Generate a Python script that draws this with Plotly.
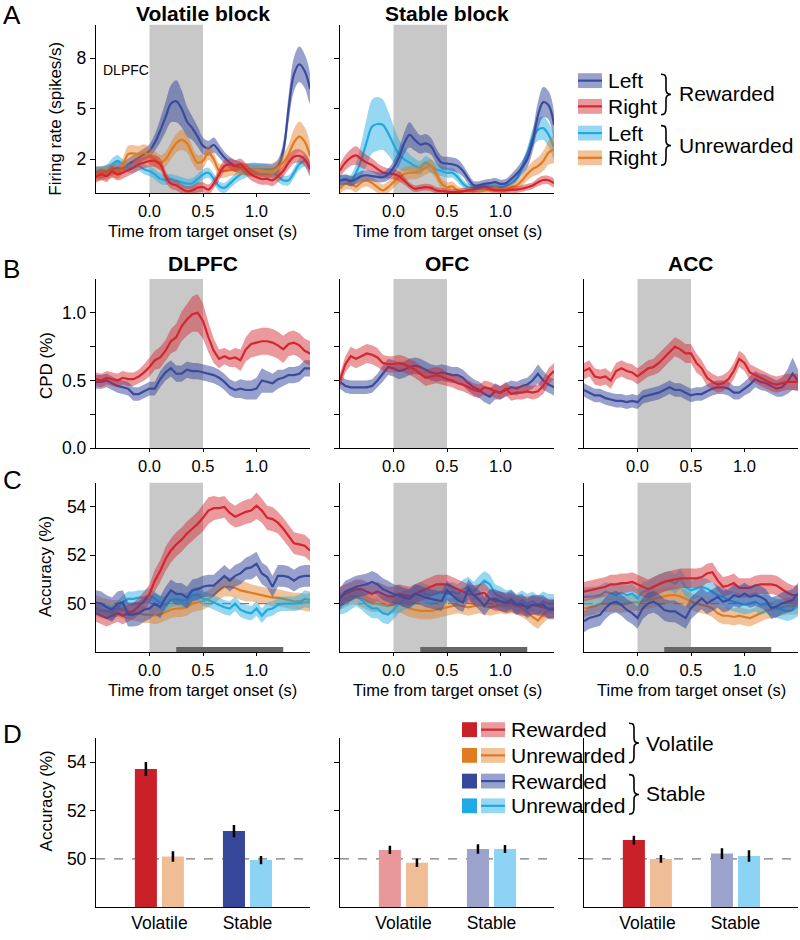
import plotly.graph_objects as go

# ---------------- DATA ----------------
t = [round(-0.5 + 0.05 * i, 2) for i in range(41)]

# Panel A: firing rate (spikes/s), DLPFC example neuron
A_vol_left_rew = [1.2,1.2,1.3,1.4,1.5,1.5,1.7,1.9,2.1,2.3, 2.5,3.0,3.7,4.5,5.3,5.45,5.0,4.25,3.85,3.35,2.8,2.65,2.85,2.5,2.1, 1.8,1.6,1.5,1.4,1.4,1.4,1.4,1.4,1.4, 1.6,2.5,5.0,7.05,7.65,7.25,6.2]
A_vol_left_rew_sem = [0.35,0.35,0.35,0.35,0.35,0.35,0.35,0.35,0.35,0.35, 0.4,0.5,0.7,0.9,1.1,1.25,1.1,0.9,0.7,0.6,0.5,0.45,0.45,0.4,0.35, 0.35,0.35,0.35,0.35,0.35,0.35,0.35,0.35,0.35, 0.4,0.5,0.8,1.0,1.05,1.0,0.9]
A_vol_right_rew = [0.95,1.1,1.0,1.28,1.1,1.2,1.35,1.5,1.7,1.8, 1.9,1.9,1.7,1.0,0.55,0.45,0.25,0.1,0.15,0.32,0.34,0.2,0.55,1.1,1.6, 1.7,1.6,1.7,1.4,1.1,0.93,0.83,0.83,0.75, 1.0,1.3,1.8,2.15,2.2,2.0,1.4]
A_vol_right_rew_sem = [0.35,0.35,0.35,0.35,0.35,0.35,0.35,0.35,0.35,0.35, 0.35,0.35,0.35,0.35,0.3,0.3,0.3,0.3,0.3,0.3,0.3,0.3,0.3,0.35,0.35, 0.35,0.35,0.35,0.35,0.35,0.35,0.35,0.35,0.35, 0.35,0.35,0.4,0.4,0.4,0.4,0.4]
A_vol_left_unrew = [1.3,1.3,1.4,1.7,1.9,1.7,1.5,1.5,1.6,1.4, 1.3,1.1,0.85,0.77,0.83,0.73,0.64,0.55,0.58,0.83,1.1,1.2,0.85,0.4,0.3, 0.55,0.85,1.1,1.3,1.4,1.4,1.35,1.3,1.2, 1.0,0.75,0.75,1.2,1.7,1.9,1.5]
A_vol_left_unrew_sem = [0.3,0.3,0.3,0.35,0.35,0.3,0.3,0.3,0.3,0.3, 0.3,0.3,0.3,0.3,0.3,0.3,0.3,0.3,0.3,0.3,0.3,0.3,0.3,0.3,0.3, 0.3,0.3,0.35,0.4,0.4,0.4,0.4,0.4,0.35, 0.35,0.3,0.3,0.3,0.35,0.35,0.35]
A_vol_right_unrew = [1.1,1.15,1.2,1.3,1.25,1.6,2.3,2.35,2.3,2.4, 2.2,2.0,1.8,2.0,2.5,2.95,3.15,2.95,2.3,1.8,1.9,2.4,2.0,1.35,1.3, 1.35,1.4,1.4,1.4,1.3,1.3,1.3,1.25,1.3, 1.5,1.8,2.3,3.0,3.35,3.05,2.2]
A_vol_right_unrew_sem = [0.4,0.4,0.4,0.4,0.4,0.45,0.5,0.5,0.5,0.5, 0.5,0.5,0.45,0.45,0.5,0.55,0.6,0.55,0.5,0.45,0.45,0.45,0.4,0.4,0.4, 0.35,0.35,0.35,0.35,0.35,0.35,0.35,0.35,0.35, 0.4,0.5,0.6,0.8,0.9,0.85,0.7]

A_stab_left_rew = [0.73,0.8,0.7,0.83,1.0,1.05,1.0,0.95,0.93,1.1, 1.5,2.1,2.95,3.45,3.15,2.88,2.95,2.78,2.2,1.8,1.75,1.7,1.6,1.3,0.83, 0.45,0.45,0.54,0.58,0.64,0.54,0.58,0.83,1.12, 1.5,2.0,3.05,4.6,5.4,5.2,4.05]
A_stab_left_rew_sem = [0.3,0.3,0.3,0.3,0.3,0.3,0.3,0.3,0.3,0.35, 0.4,0.5,0.65,0.75,0.65,0.55,0.55,0.5,0.45,0.4,0.4,0.4,0.4,0.35,0.3, 0.25,0.25,0.25,0.25,0.25,0.25,0.25,0.3,0.35, 0.4,0.5,0.6,0.8,0.9,0.85,0.75]
A_stab_right_rew = [1.32,1.8,2.1,2.23,2.0,1.8,1.65,1.42,1.22,1.16, 1.12,1.0,0.73,0.44,0.25,0.3,0.34,0.3,0.15,0.1,0.08,0.05,0.05,0.1,0.15, 0.2,0.34,0.38,0.25,0.15,0.15,0.15,0.2,0.2, 0.25,0.34,0.44,0.64,0.77,0.75,0.58]
A_stab_right_rew_sem = [0.4,0.45,0.5,0.55,0.5,0.45,0.4,0.35,0.35,0.3, 0.3,0.3,0.25,0.2,0.2,0.2,0.2,0.2,0.2,0.2,0.2,0.2,0.2,0.2,0.2, 0.2,0.2,0.2,0.2,0.2,0.2,0.2,0.2,0.2, 0.2,0.2,0.2,0.25,0.25,0.25,0.25]
A_stab_left_unrew = [0.73,0.8,0.73,1.2,2.0,3.05,3.95,4.1,4.05,3.55, 2.9,2.3,2.0,1.8,1.6,1.5,1.8,1.6,1.4,1.3,1.2,1.2,0.93,0.54,0.34, 0.3,0.25,0.25,0.34,0.38,0.34,0.44,0.54,0.83, 1.5,2.3,3.25,3.75,3.85,3.45,2.7]
A_stab_left_unrew_sem = [0.3,0.3,0.35,0.6,1.0,1.4,1.6,1.6,1.5,1.3, 1.1,0.9,0.7,0.5,0.45,0.4,0.4,0.4,0.35,0.3,0.3,0.3,0.3,0.25,0.2, 0.2,0.2,0.2,0.2,0.2,0.2,0.2,0.2,0.2, 0.3,0.4,0.55,0.65,0.7,0.7,0.7]
A_stab_right_unrew = [0.25,0.54,0.54,0.38,0.64,0.73,0.58,0.34,0.15,0.34, 0.64,0.93,1.12,1.2,1.2,1.32,1.5,1.6,1.12,0.54,0.34,0.38,0.15,0.1,0.15, 0.1,0.08,0.15,0.2,0.25,0.2,0.2,0.34,0.44, 0.73,1.12,1.42,1.6,1.9,2.4,2.6]
A_stab_right_unrew_sem = [0.3,0.35,0.35,0.35,0.35,0.35,0.35,0.35,0.35,0.35, 0.35,0.35,0.4,0.4,0.4,0.4,0.4,0.4,0.35,0.3,0.3,0.3,0.25,0.2,0.2, 0.2,0.2,0.2,0.2,0.2,0.2,0.2,0.25,0.3, 0.35,0.4,0.45,0.5,0.6,0.7,0.8]

# Panel B: CPD (%)
B_DLPFC_vol = [0.51,0.50,0.52,0.51,0.50,0.52,0.51,0.51,0.53,0.56, 0.60,0.65,0.67,0.72,0.79,0.82,0.90,0.95,0.99,1.00,0.94,0.82,0.72,0.66,0.68, 0.66,0.67,0.65,0.73,0.77,0.78,0.79,0.79,0.78, 0.76,0.73,0.77,0.78,0.76,0.72,0.70]
B_DLPFC_vol_sem = [0.05,0.05,0.05,0.05,0.05,0.05,0.05,0.05,0.05,0.06, 0.07,0.07,0.08,0.08,0.09,0.10,0.11,0.12,0.13,0.14,0.13,0.11,0.09,0.07,0.06, 0.06,0.07,0.08,0.09,0.10,0.10,0.10,0.10,0.10, 0.10,0.10,0.09,0.09,0.09,0.09,0.09]
B_DLPFC_stab = [0.49,0.49,0.50,0.48,0.46,0.45,0.44,0.40,0.40,0.42, 0.44,0.44,0.51,0.56,0.59,0.55,0.55,0.58,0.57,0.57,0.56,0.55,0.54,0.52,0.49, 0.45,0.43,0.44,0.43,0.43,0.44,0.50,0.49,0.48, 0.51,0.52,0.54,0.54,0.55,0.59,0.59]
B_DLPFC_stab_sem = [0.05,0.05,0.05,0.05,0.05,0.05,0.05,0.05,0.05,0.05, 0.05,0.05,0.06,0.06,0.06,0.06,0.06,0.06,0.06,0.06,0.06,0.06,0.06,0.06,0.06, 0.06,0.06,0.07,0.07,0.07,0.08,0.09,0.08,0.07, 0.07,0.06,0.06,0.06,0.06,0.06,0.06]
B_OFC_vol = [0.50,0.62,0.68,0.66,0.68,0.70,0.69,0.67,0.63,0.62, 0.62,0.63,0.62,0.60,0.58,0.55,0.52,0.53,0.54,0.53,0.51,0.50,0.48,0.47,0.45, 0.43,0.42,0.45,0.44,0.42,0.41,0.44,0.40,0.41, 0.41,0.42,0.41,0.42,0.46,0.53,0.57]
B_OFC_vol_sem = [0.05,0.06,0.07,0.07,0.07,0.07,0.07,0.07,0.06,0.06, 0.06,0.06,0.06,0.06,0.06,0.06,0.06,0.06,0.06,0.06,0.05,0.05,0.05,0.05,0.05, 0.05,0.05,0.05,0.05,0.05,0.05,0.05,0.05,0.05, 0.05,0.05,0.05,0.05,0.06,0.06,0.06]
B_OFC_stab = [0.49,0.46,0.45,0.45,0.45,0.45,0.46,0.50,0.55,0.60, 0.59,0.57,0.58,0.60,0.61,0.60,0.58,0.56,0.55,0.56,0.55,0.54,0.54,0.52,0.48, 0.45,0.43,0.40,0.38,0.42,0.41,0.43,0.45,0.44, 0.46,0.47,0.50,0.55,0.50,0.47,0.45]
B_OFC_stab_sem = [0.05,0.05,0.05,0.05,0.05,0.05,0.05,0.05,0.06,0.06, 0.06,0.06,0.06,0.06,0.06,0.06,0.06,0.06,0.06,0.06,0.06,0.06,0.06,0.06,0.06, 0.06,0.06,0.06,0.06,0.06,0.05,0.05,0.05,0.05, 0.05,0.05,0.06,0.07,0.07,0.06,0.06]
B_ACC_vol = [0.57,0.59,0.53,0.52,0.53,0.50,0.57,0.59,0.57,0.56, 0.53,0.56,0.59,0.60,0.63,0.67,0.71,0.75,0.73,0.70,0.70,0.63,0.59,0.52,0.49, 0.47,0.48,0.51,0.57,0.66,0.63,0.56,0.54,0.52, 0.50,0.48,0.47,0.48,0.49,0.49,0.49]
B_ACC_vol_sem = [0.06,0.06,0.06,0.06,0.06,0.06,0.06,0.06,0.06,0.06, 0.06,0.06,0.06,0.06,0.07,0.07,0.07,0.07,0.07,0.07,0.07,0.07,0.06,0.06,0.06, 0.06,0.06,0.06,0.06,0.06,0.06,0.06,0.06,0.06, 0.06,0.06,0.06,0.06,0.06,0.06,0.06]
B_ACC_stab = [0.43,0.41,0.39,0.39,0.37,0.36,0.35,0.35,0.34,0.35, 0.34,0.38,0.39,0.40,0.41,0.43,0.45,0.43,0.43,0.41,0.39,0.40,0.40,0.42,0.44, 0.45,0.45,0.44,0.41,0.41,0.44,0.47,0.51,0.49, 0.48,0.46,0.44,0.45,0.49,0.55,0.50]
B_ACC_stab_sem = [0.05,0.05,0.05,0.05,0.05,0.05,0.05,0.05,0.05,0.05, 0.05,0.05,0.05,0.05,0.05,0.05,0.05,0.05,0.05,0.05,0.05,0.05,0.05,0.05,0.05, 0.05,0.05,0.05,0.05,0.05,0.05,0.06,0.06,0.06, 0.06,0.06,0.06,0.07,0.09,0.12,0.08]

# Panel C: decoding accuracy (%)
C_DLPFC_vol_rew = [49.6,49.5,49.4,49.5,49.6,49.5,49.6,49.7,49.9,50.1, 50.4,50.95,51.35,51.85,52.2,52.45,52.65,52.9,53.1,53.3,53.55,53.85,53.95,53.95,54.0, 53.75,53.6,53.7,53.8,53.85,54.05,53.85,53.55,53.5, 53.35,53.1,52.8,52.5,52.45,52.4,52.2]
C_DLPFC_vol_rew_sem = [0.35,0.35,0.35,0.35,0.35,0.35,0.35,0.35,0.35,0.4, 0.4,0.45,0.45,0.5,0.5,0.5,0.5,0.5,0.5,0.5,0.55,0.55,0.5,0.45,0.45, 0.45,0.45,0.5,0.5,0.5,0.55,0.5,0.5,0.5, 0.45,0.45,0.45,0.45,0.45,0.45,0.45]
C_DLPFC_stab_rew = [50.05,50.0,49.85,49.75,50.0,50.05,49.55,49.55,49.6,49.75, 49.8,50.0,49.85,50.25,50.55,50.4,50.4,50.25,50.55,50.6,50.7,50.75,50.75,50.95,51.15, 50.95,51.15,51.25,51.45,51.5,51.65,51.25,51.1,50.7, 51.15,51.15,51.1,50.95,51.1,51.15,51.15]
C_DLPFC_stab_rew_sem = [0.5,0.5,0.5,0.5,0.5,0.5,0.5,0.5,0.5,0.5, 0.45,0.45,0.45,0.45,0.45,0.45,0.45,0.45,0.45,0.45,0.45,0.45,0.45,0.45,0.45, 0.45,0.45,0.45,0.45,0.5,0.5,0.45,0.45,0.45, 0.45,0.45,0.45,0.45,0.45,0.45,0.45]
C_DLPFC_vol_unrew = [50.0,49.9,49.85,49.8,49.8,49.75,49.7,49.65,49.6,49.55, 49.55,49.5,49.55,49.65,49.75,49.8,49.8,49.85,50.0,50.05,50.1,50.2,50.35,50.55,50.7, 50.7,50.65,50.55,50.5,50.45,50.4,50.35,50.3,50.25, 50.25,50.2,50.15,50.1,50.1,50.05,50.05]
C_DLPFC_vol_unrew_sem = [0.35,0.35,0.35,0.35,0.35,0.35,0.35,0.35,0.35,0.35, 0.35,0.35,0.35,0.35,0.35,0.35,0.35,0.35,0.35,0.35,0.35,0.35,0.35,0.38,0.4, 0.4,0.4,0.4,0.4,0.35,0.35,0.35,0.35,0.35, 0.35,0.35,0.35,0.35,0.35,0.35,0.38]
C_DLPFC_stab_unrew = [49.8,49.7,49.7,49.6,49.8,50.05,50.2,50.2,50.25,50.25, 50.35,50.2,50.05,49.95,50.15,50.2,50.15,50.15,50.35,50.4,50.2,50.15,50.05,49.95,49.85, 49.8,50.0,49.75,49.65,49.6,49.8,49.5,49.75,49.8, 49.95,50.0,50.0,50.0,50.05,50.2,50.15]
C_DLPFC_stab_unrew_sem = [0.3,0.3,0.3,0.3,0.3,0.3,0.3,0.3,0.3,0.3, 0.3,0.3,0.3,0.3,0.3,0.3,0.3,0.3,0.3,0.3,0.3,0.3,0.3,0.3,0.3, 0.3,0.3,0.3,0.3,0.3,0.3,0.3,0.3,0.3, 0.3,0.3,0.3,0.3,0.32,0.35,0.35]

C_OFC_vol_rew = [50.3,50.4,50.5,50.6,50.6,50.5,50.4,50.5,50.4,50.3, 50.3,50.4,50.35,50.3,50.4,50.5,50.6,50.7,50.8,50.8,50.8,50.7,50.6,50.5,50.4, 50.35,50.4,50.45,50.2,50.1,50.1,50.0,50.05,49.95, 49.9,49.9,49.95,49.9,49.85,49.8,49.8]
C_OFC_vol_rew_sem = [0.4,0.4,0.4,0.4,0.4,0.4,0.4,0.4,0.4,0.4, 0.4,0.4,0.4,0.4,0.4,0.4,0.4,0.4,0.4,0.4,0.4,0.4,0.4,0.4,0.4, 0.4,0.4,0.4,0.4,0.4,0.4,0.4,0.4,0.4, 0.4,0.4,0.4,0.4,0.4,0.4,0.4]
C_OFC_stab_rew = [50.2,50.5,50.6,50.7,50.75,50.8,50.9,50.8,50.6,50.5, 50.4,50.35,50.25,50.2,50.4,50.35,50.25,50.2,50.15,50.1,50.55,50.35,50.15,50.05,50.6, 50.35,50.15,49.9,50.2,50.2,50.1,50.05,50.15,49.95, 50.0,49.8,49.95,49.95,49.95,49.75,49.75]
C_OFC_stab_rew_sem = [0.45,0.45,0.45,0.45,0.45,0.45,0.45,0.45,0.45,0.45, 0.4,0.4,0.4,0.4,0.4,0.4,0.4,0.4,0.4,0.4,0.4,0.4,0.4,0.4,0.4, 0.4,0.4,0.4,0.4,0.4,0.4,0.4,0.4,0.4, 0.4,0.4,0.4,0.4,0.4,0.4,0.4]
C_OFC_vol_unrew = [50.1,50.2,50.3,50.3,50.2,50.1,50.0,50.0,49.95,49.9, 49.95,50.0,49.9,49.8,49.75,49.7,49.7,49.7,49.75,49.8,49.85,49.9,49.95,49.9,49.85, 49.9,49.95,49.9,49.85,49.9,49.95,49.9,49.95,49.9, 49.8,49.65,49.45,49.3,49.55,49.75,49.8]
C_OFC_vol_unrew_sem = [0.35,0.35,0.35,0.35,0.35,0.35,0.35,0.35,0.35,0.35, 0.35,0.35,0.35,0.35,0.35,0.35,0.35,0.35,0.35,0.35,0.35,0.35,0.35,0.35,0.35, 0.35,0.35,0.35,0.35,0.35,0.35,0.35,0.35,0.35, 0.35,0.35,0.35,0.35,0.35,0.35,0.35]
C_OFC_stab_unrew = [49.95,50.0,50.15,50.3,50.15,49.95,49.8,49.8,49.6,49.55, 49.75,50.0,50.15,50.2,50.35,50.5,50.4,50.35,50.4,50.5,50.4,50.5,50.4,50.6,50.7, 50.5,50.75,50.95,50.8,50.4,50.3,50.15,50.2,50.0, 50.15,50.0,50.1,49.95,50.1,50.0,50.0]
C_OFC_stab_unrew_sem = [0.4,0.4,0.4,0.4,0.4,0.4,0.4,0.4,0.4,0.4, 0.4,0.4,0.4,0.4,0.4,0.4,0.4,0.4,0.4,0.4,0.4,0.4,0.4,0.4,0.4, 0.4,0.4,0.4,0.4,0.4,0.4,0.4,0.4,0.4, 0.4,0.4,0.4,0.4,0.4,0.4,0.4]

C_ACC_vol_rew = [50.5,50.55,50.6,50.65,50.7,50.8,50.8,50.85,50.85,50.9, 50.8,50.7,50.6,50.7,50.8,50.9,50.95,51.0,51.05,51.05,51.05,51.05,51.1,51.25,51.3, 50.95,50.7,50.75,50.85,50.65,50.65,50.65,50.75,50.8, 50.8,50.8,50.75,50.6,50.45,50.35,50.35]
C_ACC_vol_rew_sem = [0.4,0.4,0.4,0.4,0.4,0.4,0.4,0.4,0.4,0.4, 0.4,0.4,0.4,0.4,0.4,0.4,0.4,0.4,0.4,0.4,0.4,0.4,0.4,0.4,0.4, 0.4,0.4,0.4,0.4,0.4,0.4,0.4,0.4,0.4, 0.4,0.4,0.4,0.4,0.4,0.4,0.4]
C_ACC_stab_rew = [49.27,49.41,49.47,49.54,49.81,50.01,50.08,49.95,49.74,49.61, 49.41,49.81,50.01,50.08,49.95,49.74,49.68,49.68,49.54,49.41,49.81,50.01,50.22,50.01,50.15, 50.28,50.08,50.15,50.35,50.28,50.42,50.28,50.35,50.28, 50.15,49.81,49.88,50.01,50.08,50.15,50.42]
C_ACC_stab_rew_sem = [0.45,0.45,0.45,0.45,0.45,0.45,0.45,0.45,0.45,0.45, 0.45,0.45,0.45,0.45,0.45,0.45,0.45,0.45,0.45,0.45,0.45,0.45,0.45,0.45,0.45, 0.45,0.45,0.45,0.45,0.45,0.45,0.45,0.45,0.45, 0.45,0.45,0.45,0.45,0.45,0.45,0.45]
C_ACC_vol_unrew = [49.8,49.85,49.9,50.0,50.0,50.0,50.0,49.95,50.0,50.05, 50.05,50.1,50.15,50.2,50.25,50.3,50.35,50.35,50.3,50.2,50.1,50.0,49.95,49.9,49.8, 49.6,49.5,49.5,49.45,49.5,49.45,49.4,49.5,49.6, 49.7,49.75,49.8,49.85,49.9,49.9,49.9]
C_ACC_vol_unrew_sem = [0.35,0.35,0.35,0.35,0.35,0.35,0.35,0.35,0.35,0.35, 0.35,0.35,0.35,0.35,0.35,0.35,0.35,0.35,0.35,0.35,0.35,0.35,0.35,0.35,0.35, 0.35,0.35,0.35,0.35,0.35,0.35,0.35,0.35,0.35, 0.35,0.35,0.35,0.35,0.35,0.35,0.35]
C_ACC_stab_unrew = [50.28,50.28,50.3,50.35,50.49,50.42,50.35,50.45,50.35,50.42, 50.22,50.49,50.55,50.69,50.82,50.89,50.96,50.82,51.03,50.69,50.55,50.62,50.69,50.62,50.49, 50.35,50.28,50.15,50.08,50.01,49.95,50.01,50.08,49.95, 50.01,49.88,49.81,49.74,49.68,49.74,49.88]
C_ACC_stab_unrew_sem = [0.4,0.4,0.4,0.4,0.4,0.4,0.4,0.4,0.4,0.4, 0.4,0.4,0.4,0.4,0.4,0.4,0.4,0.4,0.4,0.4,0.4,0.4,0.4,0.4,0.4, 0.4,0.4,0.4,0.4,0.4,0.4,0.4,0.4,0.4, 0.4,0.4,0.4,0.4,0.4,0.4,0.4]

# Panel D: mean accuracy (%)
D_categories = ["Volatile", "Stable"]
D_DLPFC_rew = [53.72, 51.15]
D_DLPFC_rew_err = [0.29, 0.25]
D_DLPFC_unrew = [50.10, 49.95]
D_DLPFC_unrew_err = [0.22, 0.17]
D_OFC_rew = [50.37, 50.41]
D_OFC_rew_err = [0.17, 0.20]
D_OFC_unrew = [49.84, 50.41]
D_OFC_unrew_err = [0.18, 0.17]
D_ACC_rew = [50.78, 50.22]
D_ACC_rew_err = [0.18, 0.22]
D_ACC_unrew = [50.00, 50.12]
D_ACC_unrew_err = [0.16, 0.24]

time_ticks = [0.0, 0.5, 1.0]
time_ticklabels = ["0.0", "0.5", "1.0"]

# ---------------- STYLE ----------------
W, H = 800, 940
FONT = "Liberation Sans, Arial, sans-serif"
LINE = {"blue": "#3a4b9d", "red": "#d3262e", "cyan": "#1fa9e1", "orange": "#e07b22"}
BAND = {"blue": "rgba(58,75,157,0.52)", "red": "rgba(211,38,46,0.47)",
        "cyan": "rgba(31,169,225,0.47)", "orange": "rgba(224,123,34,0.45)"}
SQUARE = {"red": "#c9202a", "orange": "#e07b22", "blue": "#36479a", "cyan": "#1eaae6"}
BAR_DARK_RED, BAR_PINK = "#c9202a", "#e8979b"
BAR_PEACH = "#f0be96"
BAR_DARK_BLUE, BAR_LAV = "#36479a", "#9ba3cc"
BAR_SKY = "#8dd3f3"
GREY = "#c8c8c8"


def px(x):
    return x / W


def py(y):
    return 1 - y / H


COLS = [(96, 310), (340, 554), (584, 798)]
ROWS = {"A": (25, 195), "B": (282, 453), "C": (488, 659), "D": (746, 917)}

fig = go.Figure()
layout = dict(width=W, height=H, margin=dict(l=0, r=0, t=0, b=0),
              plot_bgcolor="white", paper_bgcolor="white",
              font=dict(family=FONT, size=18, color="black"),
              showlegend=False, barmode="group", bargap=0.386, bargroupgap=0.185)
shapes, annotations = [], []

axis_common = dict(showgrid=False, zeroline=False, showline=True, linecolor="black",
                   linewidth=1.3, ticks="outside", ticklen=3, tickwidth=1.3,
                   tickcolor="black", tickfont=dict(size=16.5, family=FONT))

n = 0
for row, cols in [("A", [0, 1]), ("B", [0, 1, 2]), ("C", [0, 1, 2]), ("D", [0, 1, 2])]:
    for c in cols:
        n += 1
        x0, x1 = COLS[c]
        y0, y1 = ROWS[row]
        xa = dict(axis_common, domain=[px(x0), px(x1)], anchor=f"y{n}")
        ya = dict(axis_common, domain=[py(y1), py(y0)], anchor=f"x{n}", ticklen=5,
                  tickfont=dict(size=17.5, family=FONT))
        if row == "D":
            xa.update(type="category", range=[-0.72, 1.71], ticks="", showline=True,
                      tickfont=dict(size=17.5, family=FONT))
        else:
            xa.update(range=[-0.5, 1.5], tickvals=time_ticks, ticktext=time_ticklabels)
        if row == "A":
            ya.update(range=[0, 10], tickvals=[2, 5, 8])
        elif row == "B":
            ya.update(range=[0, 1.25], tickvals=[0, 0.25, 0.5, 0.75, 1.0],
                      ticktext=["0.0", "", "0.5", "", "1.0"])
        else:
            ya.update(range=[48, 55], tickvals=[50, 52, 54])
        if c != 0:
            ya.update(showticklabels=False)
        layout[f"xaxis{n}"] = xa
        layout[f"yaxis{n}"] = ya
        sfx = "" if n == 1 else str(n)
        if row != "D":
            shapes.append(dict(type="rect", xref=f"x{sfx}", yref=f"y{sfx} domain",
                               x0=0, x1=0.5, y0=0, y1=1, fillcolor=GREY,
                               line=dict(width=0), layer="below"))
        if row in ("C", "D"):
            shapes.append(dict(type="line", xref=f"x{sfx} domain", yref=f"y{sfx}",
                               x0=0, x1=1, y0=50, y1=50, layer="below",
                               line=dict(color="#7a7a7a", width=1.2, dash="dash")))
        if row == "C":
            shapes.append(dict(type="rect", xref=f"x{sfx}", yref=f"y{sfx} domain",
                               x0=0.25, x1=1.25, y0=0, y1=0.03, fillcolor="#666666",
                               line=dict(width=0), layer="above"))


def add_series(n, mean, sem, color, spline=False):
    assert len(mean) == len(t) and len(sem) == len(t)
    sfx = "" if n == 1 else str(n)
    upper = [m + s for m, s in zip(mean, sem)]
    lower = [m - s for m, s in zip(mean, sem)]
    shape = "spline" if spline else "linear"
    fig.add_trace(go.Scatter(x=t + t[::-1], y=upper + lower[::-1], fill="toself",
                             fillcolor=BAND[color], line=dict(width=0, shape=shape),
                             mode="lines", hoverinfo="skip", xaxis=f"x{sfx}", yaxis=f"y{sfx}"))
    fig.add_trace(go.Scatter(x=t, y=mean, mode="lines",
                             line=dict(color=LINE[color], width=2.2, shape=shape),
                             xaxis=f"x{sfx}", yaxis=f"y{sfx}"))


# Panel A
add_series(1, A_vol_left_rew, A_vol_left_rew_sem, "blue", True)
add_series(1, A_vol_left_unrew, A_vol_left_unrew_sem, "cyan", True)
add_series(1, A_vol_right_unrew, A_vol_right_unrew_sem, "orange", True)
add_series(1, A_vol_right_rew, A_vol_right_rew_sem, "red", True)
add_series(2, A_stab_left_unrew, A_stab_left_unrew_sem, "cyan", True)
add_series(2, A_stab_right_unrew, A_stab_right_unrew_sem, "orange", True)
add_series(2, A_stab_right_rew, A_stab_right_rew_sem, "red", True)
add_series(2, A_stab_left_rew, A_stab_left_rew_sem, "blue", True)

# Panel B
for n_, (vol, vs, st, ss) in zip([3, 4, 5], [
        (B_DLPFC_vol, B_DLPFC_vol_sem, B_DLPFC_stab, B_DLPFC_stab_sem),
        (B_OFC_vol, B_OFC_vol_sem, B_OFC_stab, B_OFC_stab_sem),
        (B_ACC_vol, B_ACC_vol_sem, B_ACC_stab, B_ACC_stab_sem)]):
    add_series(n_, st, ss, "blue")
    add_series(n_, vol, vs, "red")

# Panel C
C_sets = [
    (C_DLPFC_vol_rew, C_DLPFC_vol_rew_sem, C_DLPFC_vol_unrew, C_DLPFC_vol_unrew_sem,
     C_DLPFC_stab_rew, C_DLPFC_stab_rew_sem, C_DLPFC_stab_unrew, C_DLPFC_stab_unrew_sem),
    (C_OFC_vol_rew, C_OFC_vol_rew_sem, C_OFC_vol_unrew, C_OFC_vol_unrew_sem,
     C_OFC_stab_rew, C_OFC_stab_rew_sem, C_OFC_stab_unrew, C_OFC_stab_unrew_sem),
    (C_ACC_vol_rew, C_ACC_vol_rew_sem, C_ACC_vol_unrew, C_ACC_vol_unrew_sem,
     C_ACC_stab_rew, C_ACC_stab_rew_sem, C_ACC_stab_unrew, C_ACC_stab_unrew_sem)]
for n_, (vr, vrs, vu, vus, sr, srs, su, sus) in zip([6, 7, 8], C_sets):
    add_series(n_, vu, vus, "orange")
    add_series(n_, su, sus, "cyan")
    add_series(n_, vr, vrs, "red")
    add_series(n_, sr, srs, "blue")

# Panel D
D_sets = [
    (D_DLPFC_rew, D_DLPFC_rew_err, D_DLPFC_unrew, D_DLPFC_unrew_err,
     [BAR_DARK_RED, BAR_DARK_BLUE], [BAR_PEACH, BAR_SKY]),
    (D_OFC_rew, D_OFC_rew_err, D_OFC_unrew, D_OFC_unrew_err,
     [BAR_PINK, BAR_LAV], [BAR_PEACH, BAR_SKY]),
    (D_ACC_rew, D_ACC_rew_err, D_ACC_unrew, D_ACC_unrew_err,
     [BAR_DARK_RED, BAR_LAV], [BAR_PEACH, BAR_SKY])]
for n_, (rv, re, uv, ue, rc, uc) in zip([9, 10, 11], D_sets):
    for vals, errs, cols, off in [(rv, re, rc, "r"), (uv, ue, uc, "u")]:
        fig.add_trace(go.Bar(x=D_categories, y=[v - 48 for v in vals], base=48,
                             marker=dict(color=cols, line=dict(width=0)),
                             error_y=dict(type="data", array=errs, color="black",
                                          thickness=2.5, width=0),
                             offsetgroup=off, xaxis=f"x{n_}", yaxis=f"y{n_}"))

# ---------------- TEXT ----------------
def ann(x, y, text, size=17, xanchor="center", yanchor="middle", bold=False, angle=0):
    annotations.append(dict(x=px(x), y=py(y), xref="paper", yref="paper",
                            text=f"<b>{text}</b>" if bold else text,
                            showarrow=False, xanchor=xanchor, yanchor=yanchor,
                            textangle=angle, borderpad=0,
                            font=dict(size=size, family=FONT, color="black")))


for letter, yy in [("A", 15), ("B", 272), ("C", 485), ("D", 742)]:
    ann(2, yy, letter, size=26, xanchor="left")

ann(203, 14, "Volatile block", size=21, bold=True)
ann(447, 14, "Stable block", size=21, bold=True)
ann(203, 266, "DLPFC", size=21, bold=True)
ann(447, 266, "OFC", size=21, bold=True)
ann(691, 266, "ACC", size=21, bold=True)
ann(102, 71, "DLPFC", size=14, xanchor="left")

ann(56, 120, "Firing rate (spikes/s)", angle=-90)
ann(46, 370, "CPD (%)", angle=-90)
ann(46, 573, "Accuracy (%)", angle=-90)
ann(46, 810, "Accuracy (%)", angle=-90)
for cx in (203, 447):
    ann(cx, 233, "Time from target onset (s)", size=16.5)
for cx in (203, 447, 691):
    ann(cx, 697, "Time from target onset (s)", size=16.5)


def brace(x0, y0, y1, w=10):
    h = y1 - y0
    ym = (y0 + y1) / 2
    xm = x0 + w * 0.5
    pts = [("M", [(x0, y0)]),
           ("C", [(x0 + w * 0.55, y0), (xm, y0 + h * 0.06), (xm, y0 + h * 0.2)]),
           ("L", [(xm, ym - h * 0.12)]),
           ("C", [(xm, ym - h * 0.03), (x0 + w * 0.75, ym), (x0 + w, ym)]),
           ("C", [(x0 + w * 0.75, ym), (xm, ym + h * 0.03), (xm, ym + h * 0.12)]),
           ("L", [(xm, y1 - h * 0.2)]),
           ("C", [(xm, y1 - h * 0.06), (x0 + w * 0.45, y1), (x0, y1)])]
    path = ""
    for cmd, plist in pts:
        path += cmd + " ".join(f"{px(a):.5f},{py(b):.5f}" for a, b in plist) + " "
    shapes.append(dict(type="path", xref="paper", yref="paper", path=path.strip(),
                       line=dict(color="black", width=1.6)))


def swatch(xa, xb, yc, color, hh=7.5):
    shapes.append(dict(type="rect", xref="paper", yref="paper", x0=px(xa), x1=px(xb),
                       y0=py(yc + hh), y1=py(yc - hh), fillcolor=BAND[color],
                       line=dict(width=0)))
    shapes.append(dict(type="line", xref="paper", yref="paper", x0=px(xa), x1=px(xb),
                       y0=py(yc), y1=py(yc), line=dict(color=LINE[color], width=2.2)))


# Legend A
for yc, color, label in [(81.5, "blue", "Left"), (107.5, "red", "Right"),
                         (134.5, "cyan", "Left"), (159.5, "orange", "Right")]:
    swatch(578, 602, yc, color)
    ann(607, yc, label, size=21, xanchor="left")
brace(661, 75, 116)
brace(661, 127, 167)
ann(678, 95, "Rewarded", size=21, xanchor="left")
ann(678, 147, "Unrewarded", size=21, xanchor="left")

# Legend D
for yc, color, label in [(737.5, "red", "Rewarded"), (763.5, "orange", "Unrewarded"),
                         (789.5, "blue", "Rewarded"), (814.5, "cyan", "Unrewarded")]:
    shapes.append(dict(type="rect", xref="paper", yref="paper", x0=px(462), x1=px(477),
                       y0=py(yc + 7.5), y1=py(yc - 7.5), fillcolor=SQUARE[color],
                       line=dict(width=0)))
    swatch(481, 505, yc, color)
    ann(510, yc, label, size=21, xanchor="left")
brace(629, 731, 771)
brace(629, 783, 823)
ann(645, 751, "Volatile", size=21, xanchor="left")
ann(645, 802, "Stable", size=21, xanchor="left")

layout["shapes"] = shapes
layout["annotations"] = annotations
fig.update_layout(**layout)
fig.write_html("out.html", config={"displayModeBar": False},
               post_script="document.body.style.margin='0';document.body.style.padding='0';")
